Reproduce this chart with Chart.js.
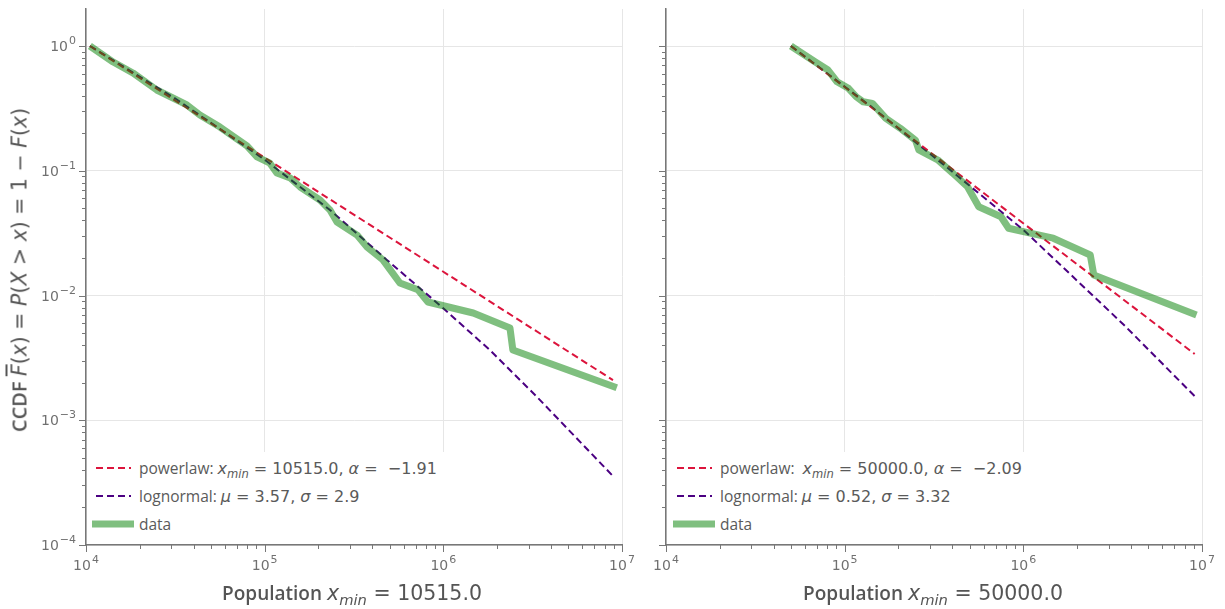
<!DOCTYPE html>
<html>
<head>
<meta charset="utf-8">
<script src="https://cdn.jsdelivr.net/npm/chart.js@4.4.0/dist/chart.umd.min.js"></script>
<style>
  body { margin: 0; background: #fff; }
  #wrap { position: relative; width: 1225px; height: 609px; overflow: hidden; font-family: 'Open Sans', sans-serif; color: #555; }
  canvas { position: absolute; top: 0; }
  .m { font-family: 'DejaVu Sans', sans-serif; }
  .xtitle { position: absolute; top: 593px; font-size: 19px; white-space: pre; transform: translate(-50%, -50%); }
  .xtitle .m { font-size: 20.5px; }
  .ytitle { position: absolute; left: 19px; top: 270px; font-size: 20px; white-space: pre; transform: translate(-50%, -50%) rotate(-90deg); }
  .ytitle .m { font-size: 20.5px; }
  .sb { font-weight: 600; }
  .legend { position: absolute; top: 452px; height: 92px; background: #fff; font-size: 15.5px; color: #5a5a5a; }
  .row { position: absolute; height: 22px; white-space: pre; display: flex; align-items: center; }
  .row svg { margin-right: 8px; flex: none; }
  .row .m { font-size: 16px; }
  .ol { text-decoration: overline; }
  sub { font-size: 72%; vertical-align: -0.32em; line-height: 0; }
</style>
</head>
<body>
<div id="wrap">
  <canvas id="left" width="640" height="609" style="left:0"></canvas>
  <canvas id="right" width="585" height="609" style="left:640px"></canvas>

  <div class="ytitle"><span class="sb">CCDF</span> <span class="m"><i class="ol">F</i>(<i>x</i>) = <i>P</i>(<i>X</i> &gt; <i>x</i>) = 1 − <i>F</i>(<i>x</i>)</span></div>
  <div class="xtitle" style="left:352px"><span class="sb">Population</span> <span class="m"><i>x<sub>min</sub></i> = 10515.0</span></div>
  <div class="xtitle" style="left:933px"><span class="sb">Population</span> <span class="m"><i>x<sub>min</sub></i> = 50000.0</span></div>

  <div class="legend" style="left:88px; width:368px">
    <div class="row" style="top:5px; left:8px"><svg width="35" height="4"><line x1="0" y1="2" x2="35" y2="2" stroke="#dc143c" stroke-width="2" stroke-dasharray="7 4"/></svg><span>powerlaw: <span class="m"><i>x<sub>min</sub></i> = 10515.0, <i>α</i> =  −1.91</span></span></div>
    <div class="row" style="top:33px; left:8px"><svg width="35" height="4"><line x1="0" y1="2" x2="35" y2="2" stroke="#4b0082" stroke-width="2" stroke-dasharray="7 4"/></svg><span>lognormal: <span class="m"><i>μ</i> = 3.57, <i>σ</i> = 2.9</span></span></div>
    <div class="row" style="top:61px; left:4px"><svg width="42" height="8" style="margin-right:5px"><line x1="0" y1="4" x2="42" y2="4" stroke="rgba(0,128,0,0.5)" stroke-width="7"/></svg><span>data</span></div>
  </div>
  <div class="legend" style="left:668px; width:375px">
    <div class="row" style="top:5px; left:9px"><svg width="35" height="4"><line x1="0" y1="2" x2="35" y2="2" stroke="#dc143c" stroke-width="2" stroke-dasharray="7 4"/></svg><span>powerlaw:  <span class="m"><i>x<sub>min</sub></i> = 50000.0, <i>α</i> =  −2.09</span></span></div>
    <div class="row" style="top:33px; left:9px"><svg width="35" height="4"><line x1="0" y1="2" x2="35" y2="2" stroke="#4b0082" stroke-width="2" stroke-dasharray="7 4"/></svg><span>lognormal: <span class="m"><i>μ</i> = 0.52, <i>σ</i> = 3.32</span></span></div>
    <div class="row" style="top:61px; left:5px"><svg width="42" height="8" style="margin-right:5px"><line x1="0" y1="4" x2="42" y2="4" stroke="rgba(0,128,0,0.5)" stroke-width="7"/></svg><span>data</span></div>
  </div>
</div>

<script>
// tick labels: base 10 with exponent
const xTickValues = [1e4, 1e5, 1e6, 1e7];
const xTickExps = ['4', '5', '6', '7'];
const yTickValues = [1, 1e-1, 1e-2, 1e-3, 1e-4];
const yTickExps = ['0', '−1', '−2', '−3', '−4'];

// left panel, xmin = 10515
const leftDataX = [10515, 14200, 18300, 24900, 36700, 43400, 56200, 79600, 90600, 107000, 117000, 139000, 158000,
  204000, 232000, 254000, 329000, 374000, 459000, 571000, 721000, 820000, 1470000, 2360000, 2450000, 9350000];
const leftDataY = [1, 0.744, 0.608, 0.444, 0.337, 0.280, 0.224, 0.158, 0.129, 0.115, 0.096, 0.0875, 0.0741,
  0.0583, 0.0485, 0.0388, 0.0305, 0.0245, 0.0193, 0.0126, 0.0111, 0.00887, 0.00724, 0.00549, 0.00366, 0.00182];
const leftPowerX = [10515, 1000000, 8900000];
const leftPowerY = [1, 0.0155, 0.0021];
const leftLognX = [10515, 31900, 100500, 232000, 483000, 995000, 1820000, 3340000, 8900000];
const leftLognY = [1, 0.376, 0.122, 0.0485, 0.0193, 0.00794, 0.00366, 0.00154, 0.000357];

// right panel, xmin = 50000
const rightDataX = [50000, 68200, 80700, 90600, 105000, 116000, 127000, 143000, 170000, 205000, 249000, 260000,
  332000, 402000, 487000, 563000, 750000, 827000, 1000000, 1470000, 2370000, 2480000, 9310000];
const rightDataY = [1, 0.748, 0.642, 0.517, 0.458, 0.392, 0.357, 0.347, 0.263, 0.219, 0.176, 0.147,
  0.122, 0.0959, 0.0745, 0.0515, 0.0428, 0.0346, 0.0325, 0.0288, 0.0211, 0.0146, 0.00698];
const rightPowerX = [50000, 9100000];
const rightPowerY = [1, 0.0034];
const rightLognX = [50000, 139000, 402000, 1000000, 3660000, 9100000];
const rightLognY = [1, 0.331, 0.098, 0.0336, 0.0058, 0.00156];

const zip = (xs, ys) => xs.map((x, i) => ({ x, y: ys[i] }));
const isDecade = v => Math.abs(Math.log10(v) - Math.round(Math.log10(v))) < 1e-9;

// major + minor tick marks outside the axes, and 10^n labels
const tickMarks = {
    id: 'tickMarks',
    afterDraw(chart, args, opts) {
        const c = chart.ctx;
        c.save();
        c.strokeStyle = '#777';
        c.lineWidth = 1;
        ['x', 'y'].forEach(id => {
            const s = chart.scales[id];
            s.ticks.forEach(t => {
                const e = Math.floor(Math.log10(t.value) + 1e-9);
                const m = t.value / Math.pow(10, e);
                if (Math.abs(m - Math.round(m)) > 1e-6) return;
                const len = Math.round(m) === 1 ? 7 : 4;
                const p = Math.round(s.getPixelForValue(t.value)) + 0.5;
                c.beginPath();
                if (id === 'x') { c.moveTo(p, s.top); c.lineTo(p, s.top + len); }
                else { c.moveTo(s.right, p); c.lineTo(s.right - len, p); }
                c.stroke();
            });
        });

        const base = '14px "DejaVu Sans"', sup = '11px "DejaVu Sans"';
        const label = (v, exp, axis) => {
            c.font = base;
            const wb = c.measureText('10').width;
            c.font = sup;
            const we = c.measureText(exp).width + 1;
            let x0, yb;
            if (axis === 'x') {
                x0 = chart.scales.x.getPixelForValue(v) - (wb + we) / 2;
                yb = chart.scales.x.top + 25;
            } else {
                x0 = chart.scales.y.right - 10 - wb - we;
                yb = chart.scales.y.getPixelForValue(v) + 5;
            }
            c.fillStyle = '#707070';
            c.textBaseline = 'alphabetic';
            c.textAlign = 'left';
            c.font = base;
            c.fillText('10', x0, yb);
            c.font = sup;
            c.fillText(exp, x0 + wb + 1, yb - 7);
        };
        xTickValues.forEach((v, i) => label(v, xTickExps[i], 'x'));
        if (opts.yLabels) yTickValues.forEach((v, i) => label(v, yTickExps[i], 'y'));
        c.restore();
    }
};

function makeChart(id, d, yWidth, padRight, showYLabels) {
    return new Chart(document.getElementById(id), {
        type: 'line',
        data: {
            datasets: [
                { label: 'data', data: zip(d.dataX, d.dataY), borderColor: 'rgba(0,128,0,0.5)', borderWidth: 7,
                  pointRadius: 0, tension: 0, borderJoinStyle: 'round', borderCapStyle: 'butt' },
                { label: 'powerlaw', data: zip(d.powerX, d.powerY), borderColor: '#dc143c', borderWidth: 2,
                  borderDash: [7, 4], pointRadius: 0, tension: 0 },
                { label: 'lognormal', data: zip(d.lognX, d.lognY), borderColor: '#4b0082', borderWidth: 2,
                  borderDash: [7, 4], pointRadius: 0, tension: 0 }
            ]
        },
        options: {
            responsive: false,
            animation: false,
            events: [],
            layout: { padding: { top: 9, right: padRight, left: 0, bottom: 0 } },
            plugins: { legend: { display: false }, tooltip: { enabled: false }, tickMarks: { yLabels: showYLabels } },
            scales: {
                x: {
                    type: 'logarithmic', min: 1e4, max: 1e7,
                    afterFit: s => { s.height = 64; s.paddingLeft = 0; s.paddingRight = 0; },
                    border: { color: '#777', width: 1.5 },
                    grid: { drawTicks: false, color: ctx => isDecade(ctx.tick.value) ? '#e6e6e6' : 'transparent' },
                    ticks: { autoSkip: false, maxRotation: 0, callback: () => '' }
                },
                y: {
                    type: 'logarithmic', min: 1e-4, max: 1.98,
                    afterFit: s => { s.width = yWidth; s.paddingTop = 0; s.paddingBottom = 0; },
                    border: { color: '#777', width: 1.5 },
                    grid: { drawTicks: false, color: ctx => isDecade(ctx.tick.value) ? '#e6e6e6' : 'transparent' },
                    ticks: { autoSkip: false, callback: () => '' }
                }
            }
        },
        plugins: [tickMarks]
    });
}

makeChart('left', { dataX: leftDataX, dataY: leftDataY, powerX: leftPowerX, powerY: leftPowerY, lognX: leftLognX, lognY: leftLognY }, 86, 18, true);
makeChart('right', { dataX: rightDataX, dataY: rightDataY, powerX: rightPowerX, powerY: rightPowerY, lognX: rightLognX, lognY: rightLognY }, 26, 23, false);
</script>
</body>
</html>
